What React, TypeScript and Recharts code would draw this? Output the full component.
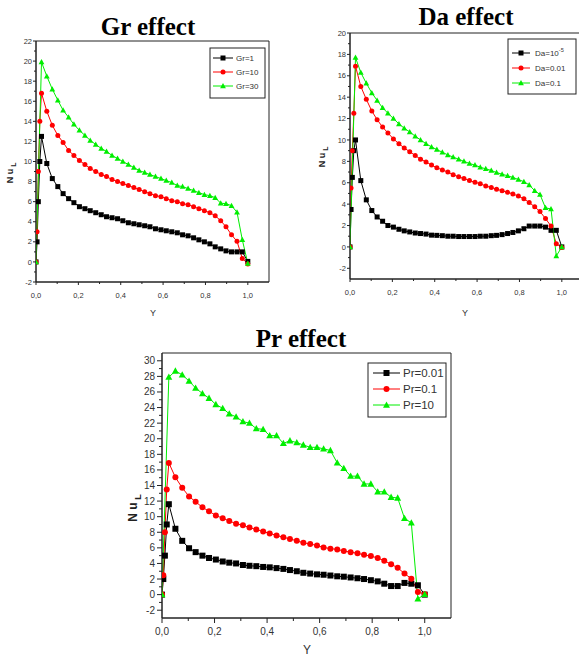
import React from "react";
import { LineChart, Line, XAxis, YAxis, ReferenceArea } from "recharts";

// positions across the channel (Y), shared by the three panels
const yPos = [
  0, 0.005, 0.011, 0.018, 0.026, 0.051, 0.077, 0.103, 0.128, 0.154, 0.179, 0.205, 0.231, 0.256,
  0.282, 0.308, 0.333, 0.359, 0.385, 0.41, 0.436, 0.462, 0.487, 0.513, 0.538, 0.564, 0.59,
  0.615, 0.641, 0.667, 0.692, 0.718, 0.744, 0.769, 0.795, 0.821, 0.846, 0.872, 0.897, 0.923,
  0.949, 0.974, 1.0,
];

// Gr effect
const gr1 = [
  0, 2.0, 6.0, 10.0, 12.5, 9.8, 8.3, 7.5, 6.8, 6.3, 5.9, 5.5, 5.3, 5.1, 4.9, 4.7, 4.5, 4.4, 4.3,
  4.1, 3.9, 3.8, 3.7, 3.6, 3.5, 3.3, 3.2, 3.1, 3.0, 2.9, 2.7, 2.6, 2.4, 2.2, 2.0, 1.8, 1.5, 1.3,
  1.1, 1.0, 1.0, 1.0, 0.05,
];
const gr10 = [
  0, 3.0, 9.0, 14.0, 16.8, 15.0, 13.6, 12.6, 11.9, 11.1, 10.6, 10.1, 9.7, 9.3, 9.0, 8.7, 8.5,
  8.2, 8.0, 7.8, 7.6, 7.4, 7.2, 7.0, 6.8, 6.6, 6.5, 6.3, 6.1, 6.0, 5.8, 5.7, 5.5, 5.3, 5.1, 4.9,
  4.6, 4.1, 3.5, 2.7, 2.05, 0.35, -0.2,
];
const gr30 = [
  0, null, null, null, 19.9, 18.5, 17.2, 16.1, 15.1, 14.4, 13.7, 13.1, 12.6, 12.1, 11.7, 11.3,
  11.0, 10.6, 10.3, 10.0, 9.7, 9.4, 9.1, 8.9, 8.7, 8.5, 8.3, 8.1, 7.9, 7.6, 7.5, 7.3, 7.1, 6.9,
  6.7, 6.6, 6.4, 5.85, 5.8, 5.6, 4.95, 2.2, -0.15,
];

// Da effect
const da5 = [
  0, 3.5, 6.5, 9.0, 10.0, 6.2, 4.4, 3.4, 2.8, 2.4, 2.0, 1.85, 1.65, 1.5, 1.4, 1.3, 1.25, 1.2,
  1.1, 1.08, 1.05, 1.0, 1.0, 0.97, 0.97, 0.97, 0.97, 1.0, 1.0, 1.05, 1.08, 1.15, 1.25, 1.35, 1.5,
  1.7, 1.95, 1.95, 1.95, 1.85, 1.55, 1.55, 0.0,
];
const da001 = [
  0, 5.5, 9.0, 12.5, 16.9, 15.0, 13.8, 12.7, 11.9, 11.2, 10.65, 10.1, 9.65, 9.25, 8.9, 8.55,
  8.2, 7.95, 7.65, 7.4, 7.2, 7.0, 6.75, 6.55, 6.4, 6.2, 6.05, 5.9, 5.7, 5.55, 5.4, 5.25, 5.1,
  4.95, 4.75, 4.5, 4.15, 3.75, 3.3, 2.65, 1.95, 0.3, -0.05,
];
const da01 = [
  0, null, null, null, 17.7, 16.3, 15.3, 14.4, 13.7, 13.0, 12.5, 12.0, 11.5, 11.1, 10.75, 10.35,
  10.0, 9.65, 9.35, 9.1, 8.85, 8.6, 8.4, 8.2, 8.0, 7.8, 7.65, 7.45, 7.3, 7.15, 6.95, 6.8, 6.65,
  6.5, 6.3, 6.1, 5.8, 5.25, 4.9, 3.65, 3.55, -0.85, 0.0,
];

// Pr effect
const pr001 = [
  0, 2.0, 5.0, 9.0, 11.6, 8.45, 6.9, 5.95, 5.45, 5.0, 4.7, 4.5, 4.25, 4.1, 4.0, 3.8, 3.7, 3.65,
  3.55, 3.5, 3.4, 3.3, 3.15, 3.0, 2.8, 2.7, 2.6, 2.55, 2.45, 2.35, 2.3, 2.2, 2.1, 2.0, 1.85, 1.7,
  1.4, 1.1, 1.1, 1.5, 1.4, 1.2, 0.0,
];
const pr01 = [
  0, 2.5, 8.0, 13.5, 16.9, 15.05, 13.7, 12.6, 11.9, 11.2, 10.7, 10.15, 9.8, 9.45, 9.1, 8.9, 8.6,
  8.35, 8.1, 7.85, 7.6, 7.35, 7.15, 6.9, 6.65, 6.5, 6.3, 6.05, 5.9, 5.8, 5.6, 5.45, 5.3, 5.1,
  4.95, 4.7, 4.35, 3.9, 3.45, 2.7, 2.05, 0.35, 0.05,
];
const pr10 = [
  0, null, null, null, 27.9, 28.7, 28.2, 27.4, 26.5, 25.8, 25.2, 24.4, 23.9, 23.2, 22.8, 22.2,
  22.0, 21.3, 21.2, 20.4, 20.4, 19.4, 19.75, 19.5, 19.2, 18.9, 18.9, 18.7, 18.5, 16.9, 16.2,
  15.2, 15.2, 14.2, 14.2, 13.2, 13.2, 12.5, 12.4, 9.8, 9.2, -0.55, 0.05,
];

const xMajor = [0, 0.2, 0.4, 0.6, 0.8, 1.0];
const grMajor = [-2, 0, 2, 4, 6, 8, 10, 12, 14, 16, 18, 20, 22];
const daMajor = [-2, 0, 2, 4, 6, 8, 10, 12, 14, 16, 18, 20];
const prMajor = [-2, 0, 2, 4, 6, 8, 10, 12, 14, 16, 18, 20, 22, 24, 26, 28, 30];

// major ticks plus the minor ones half way between
const withMinor = (major: number[]) => {
  const out: number[] = [];
  major.forEach((v, i) => {
    out.push(v);
    if (i < major.length - 1) out.push(+((v + major[i + 1]) / 2).toFixed(3));
  });
  return out;
};

const SANS = "'Liberation Sans', Arial, sans-serif";
const SERIF = "'Liberation Serif', 'Times New Roman', serif";

type Shape = "square" | "circle" | "triangle";

const Marker = ({ cx, cy, shape, s, color }: any) => {
  if (cx == null || cy == null) return null;
  if (shape === "square")
    return <rect x={cx - s / 2} y={cy - s / 2} width={s} height={s} fill={color} />;
  if (shape === "circle") return <circle cx={cx} cy={cy} r={s / 2} fill={color} />;
  const pts = `${cx},${cy - s * 0.6} ${cx - s * 0.58},${cy + s * 0.45} ${cx + s * 0.58},${cy + s * 0.45}`;
  return <polygon points={pts} fill={color} />;
};

type Series = { key: string; name: string; values: (number | null)[]; color: string; shape: Shape };

type Cfg = {
  left: number; top: number; width: number; height: number;
  yw: number; mt: number; mr: number; xh: number;
  yDomain: [number, number]; yMajor: number[];
  tickFs: number; majLen: number; minLen: number; yGap: number; xDy: number;
  mark: number; labelFs: number;
  yLabel: [number, number]; xLabel: [number, number];
  series: Series[];
};

const isMajorY = (v: number) => Math.abs(v % 2) < 1e-6;
const isMajorX = (v: number) => Math.round(v * 10) % 2 === 0;

function Panel({ cfg }: { cfg: Cfg }) {
  const rows = yPos.map((y, k) => {
    const r: any = { y };
    cfg.series.forEach((s) => (r[s.key] = s.values[k]));
    return r;
  });

  const yTick = (p: any) => {
    const v = p.payload.value;
    const major = isMajorY(v);
    return (
      <g key={`yt${v}`}>
        <line x1={p.x - (major ? cfg.majLen : cfg.minLen)} x2={p.x} y1={p.y} y2={p.y} stroke="#222" />
        {major && (
          <text x={p.x - cfg.yGap} y={p.y} dy="0.35em" textAnchor="end" fontSize={cfg.tickFs}
            fontFamily={SANS} fill="#333">{v}</text>
        )}
      </g>
    );
  };

  const xTick = (p: any) => {
    const v = p.payload.value;
    const major = isMajorX(v);
    return (
      <g key={`xt${v}`}>
        <line x1={p.x} x2={p.x} y1={p.y} y2={p.y + (major ? cfg.majLen : cfg.minLen)} stroke="#222" />
        {major && (
          <text x={p.x} y={p.y + cfg.xDy} dy="0.35em" textAnchor="middle" fontSize={cfg.tickFs}
            fontFamily={SANS} fill="#333">{v.toFixed(1).replace(".", ",")}</text>
        )}
      </g>
    );
  };

  return (
    <div style={{ position: "absolute", left: cfg.left, top: cfg.top, width: cfg.width, height: cfg.height }}>
      <LineChart width={cfg.width} height={cfg.height} data={rows}
        margin={{ top: cfg.mt, right: cfg.mr, left: 0, bottom: 0 }}>
        <ReferenceArea x1={0} x2={1.1} y1={cfg.yDomain[0]} y2={cfg.yDomain[1]} fill="none"
          fillOpacity={0} stroke="#222" strokeOpacity={1} />
        <XAxis type="number" dataKey="y" domain={[0, 1.1]} allowDataOverflow ticks={withMinor(xMajor)}
          interval={0} height={cfg.xh} tickSize={0} tickMargin={0} tickLine={false} stroke="#222"
          tick={xTick}
          label={() => (
            <text x={cfg.xLabel[0]} y={cfg.xLabel[1]} textAnchor="middle" fontSize={cfg.labelFs}
              fontFamily={SANS} fill="#333">Y</text>
          )} />
        <YAxis type="number" domain={cfg.yDomain} allowDataOverflow ticks={withMinor(cfg.yMajor)}
          interval={0} width={cfg.yw} tickSize={0} tickMargin={0} tickLine={false} stroke="#222"
          tick={yTick}
          label={() => (
            <text transform={`translate(${cfg.yLabel[0]},${cfg.yLabel[1]}) rotate(-90)`} textAnchor="middle"
              fontSize={cfg.labelFs} fontFamily={SANS} fontWeight="bold" fill="#222">
              N u<tspan dy={cfg.labelFs * 0.3} fontSize={cfg.labelFs * 0.75}> L</tspan>
            </text>
          )} />
        {cfg.series.map((s) => (
          <Line key={s.key} type="linear" dataKey={s.key} name={s.name} stroke={s.color} strokeWidth={1}
            isAnimationActive={false} activeDot={false} connectNulls
            dot={(p: any) => <Marker key={`${s.key}${p.index}`} cx={p.cx} cy={p.cy} shape={s.shape} s={cfg.mark} color={s.color} />} />
        ))}
      </LineChart>
    </div>
  );
}

const BLACK = "#000000";
const RED = "#ff0000";
const GREEN = "#00ee00";

const grCfg: Cfg = {
  left: 0, top: 0, width: 280, height: 322, yw: 36, mt: 41, mr: 11, xh: 40,
  yDomain: [-2, 22], yMajor: grMajor, tickFs: 7.5, majLen: 3, minLen: 2, yGap: 4, xDy: 13,
  mark: 5, labelFs: 9, yLabel: [13, 173], xLabel: [153, 316],
  series: [
    { key: "a", name: "Gr=1", values: gr1, color: BLACK, shape: "square" },
    { key: "b", name: "Gr=10", values: gr10, color: RED, shape: "circle" },
    { key: "c", name: "Gr=30", values: gr30, color: GREEN, shape: "triangle" },
  ],
};

const daCfg: Cfg = {
  left: 300, top: 0, width: 300, height: 320, yw: 50, mt: 33, mr: 17, xh: 41,
  yDomain: [-3, 20], yMajor: daMajor, tickFs: 7.5, majLen: 3, minLen: 2, yGap: 4, xDy: 13,
  mark: 5, labelFs: 9, yLabel: [25, 157], xLabel: [165, 316],
  series: [
    { key: "a", name: "Da=10-5", values: da5, color: BLACK, shape: "square" },
    { key: "b", name: "Da=0.01", values: da001, color: RED, shape: "circle" },
    { key: "c", name: "Da=0.1", values: da01, color: GREEN, shape: "triangle" },
  ],
};

const prCfg: Cfg = {
  left: 120, top: 320, width: 340, height: 340, yw: 42, mt: 33, mr: 9, xh: 42,
  yDomain: [-3, 31], yMajor: prMajor, tickFs: 10, majLen: 5, minLen: 3, yGap: 7, xDy: 13,
  mark: 6, labelFs: 12, yLabel: [17, 188], xLabel: [187, 334],
  series: [
    { key: "a", name: "Pr=0.01", values: pr001, color: BLACK, shape: "square" },
    { key: "b", name: "Pr=0.1", values: pr01, color: RED, shape: "circle" },
    { key: "c", name: "Pr=10", values: pr10, color: GREEN, shape: "triangle" },
  ],
};

function LegendBox({ x, y, w, h, rows, l1, l2, tx, fs, mark, series }: any) {
  return (
    <g>
      <rect x={x} y={y} width={w} height={h} fill="#fff" stroke="#222" strokeWidth={1} />
      {series.map((s: Series, i: number) => (
        <g key={s.key}>
          <line x1={l1} x2={l2} y1={rows[i]} y2={rows[i]} stroke={s.color} strokeWidth={1} />
          <Marker cx={(l1 + l2) / 2} cy={rows[i]} shape={s.shape} s={mark} color={s.color} />
          <text x={tx} y={rows[i]} dy="0.35em" fontSize={fs} fontFamily={SANS} fill="#333">
            {s.name === "Da=10-5" ? (
              <>Da=10<tspan dy={-fs * 0.45} fontSize={fs * 0.7}>-5</tspan></>
            ) : s.name}
          </text>
        </g>
      ))}
    </g>
  );
}

export default function App() {
  return (
    <div style={{ position: "absolute", left: 0, top: 0, width: 579, height: 658, overflow: "hidden", background: "#fff" }}>
      <Panel cfg={grCfg} />
      <Panel cfg={daCfg} />
      <Panel cfg={prCfg} />
      <svg width={579} height={658} style={{ position: "absolute", left: 0, top: 0, pointerEvents: "none" }}>
        <text x={148} y={35} textAnchor="middle" fontFamily={SERIF} fontWeight="bold" fontSize={25}>Gr effect</text>
        <text x={466} y={25} textAnchor="middle" fontFamily={SERIF} fontWeight="bold" fontSize={25}>Da effect</text>
        <text x={301} y={347} textAnchor="middle" fontFamily={SERIF} fontWeight="bold" fontSize={25}>Pr effect</text>
        <LegendBox x={210} y={48} w={55} h={50} rows={[58, 72, 86]} l1={213} l2={233} tx={236} fs={8} mark={5} series={grCfg.series} />
        <LegendBox x={508} y={39} w={68} h={55} rows={[53, 68, 83]} l1={512} l2={530} tx={535} fs={8} mark={5} series={daCfg.series} />
        <LegendBox x={368} y={363} w={78} h={54} rows={[373, 389, 405]} l1={373} l2={400} tx={403} fs={11.5} mark={6} series={prCfg.series} />
      </svg>
    </div>
  );
}
